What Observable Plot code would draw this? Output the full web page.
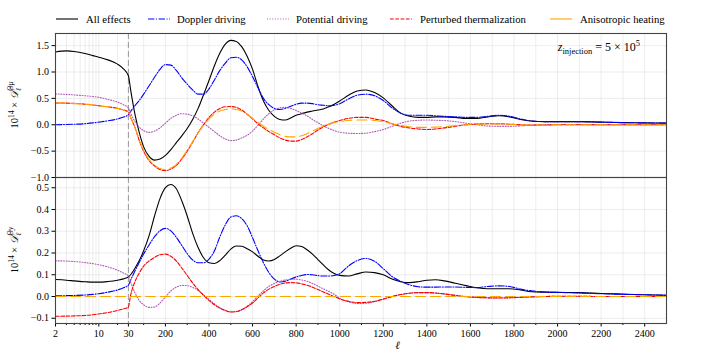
<!DOCTYPE html>
<html>
<head>
<meta charset="utf-8">
<script src="https://cdn.jsdelivr.net/npm/d3@7"></script>
<script src="https://cdn.jsdelivr.net/npm/@observablehq/plot@0.6"></script>
<style>
  html, body { margin: 0; padding: 0; background: white; overflow: hidden; }
  #chart { position: relative; width: 727px; height: 363px; background: white; }
  #chart svg { position: absolute; left: 0; top: 0; }
</style>
</head>
<body>
<div id="chart"></div>
<script>
// ---------------- data ----------------
const ell = [2, 3, 4, 6, 8, 10, 14, 20, 25, 30,
  40, 60, 80, 100,
  125, 150, 175, 200, 225, 250, 275, 300, 325, 350, 375, 400, 425, 450, 475, 500, 525, 550, 575, 600,
  625, 650, 675, 700, 725, 750, 775, 800, 825, 850, 875, 900, 925, 950, 975, 1000,
  1040, 1080, 1120, 1160, 1200, 1240, 1280, 1320, 1360, 1400, 1440, 1480,
  1530, 1580, 1630, 1680, 1730, 1780, 1830, 1880,
  1940, 2000, 2100, 2200, 2300, 2400, 2500];

// top panel: 10^14 x D_l^{Theta mu}
const topAll = [1.38, 1.40, 1.39, 1.35, 1.31, 1.28, 1.23, 1.15, 1.06, 0.93,
  0.67, 0.20, -0.15, -0.42,
  -0.60, -0.67, -0.65, -0.58, -0.47, -0.34, -0.21, -0.07, 0.10, 0.31, 0.57, 0.84, 1.12, 1.36, 1.53, 1.60, 1.58, 1.48, 1.30, 1.05,
  0.72, 0.45, 0.27, 0.16, 0.10, 0.09, 0.13, 0.18, 0.21, 0.24, 0.26, 0.28, 0.30, 0.34, 0.39, 0.45,
  0.56, 0.64, 0.66, 0.61, 0.51, 0.36, 0.22, 0.16, 0.14, 0.14, 0.15, 0.15,
  0.14, 0.12, 0.12, 0.15, 0.17, 0.15, 0.10, 0.07,
  0.06, 0.06, 0.06, 0.05, 0.04, 0.035, 0.03];
const topDoppler = [0.00, 0.005, 0.01, 0.02, 0.035, 0.05, 0.075, 0.11, 0.145, 0.19,
  0.25, 0.36, 0.46, 0.58,
  0.74, 0.90, 1.05, 1.14, 1.13, 1.03, 0.89, 0.77, 0.66, 0.58, 0.58, 0.68, 0.85, 1.03, 1.17, 1.27, 1.28, 1.23, 1.10, 0.91,
  0.70, 0.50, 0.38, 0.31, 0.29, 0.31, 0.35, 0.39, 0.41, 0.41, 0.40, 0.38, 0.37, 0.36, 0.37, 0.40,
  0.49, 0.56, 0.58, 0.55, 0.46, 0.32, 0.22, 0.18, 0.18, 0.18, 0.17, 0.16,
  0.15, 0.14, 0.14, 0.16, 0.18, 0.16, 0.11, 0.07,
  0.06, 0.06, 0.06, 0.05, 0.04, 0.035, 0.03];
const topPotential = [0.585, 0.575, 0.565, 0.55, 0.535, 0.52, 0.48, 0.43, 0.38, 0.32,
  0.22, 0.06, -0.05, -0.11,
  -0.145, -0.12, -0.06, 0.03, 0.12, 0.18, 0.21, 0.20, 0.17, 0.11, 0.03, -0.05, -0.13, -0.21, -0.27, -0.30, -0.29, -0.25, -0.20, -0.12,
  -0.01, 0.11, 0.21, 0.28, 0.32, 0.33, 0.31, 0.27, 0.22, 0.17, 0.10, 0.04, -0.02, -0.07, -0.11, -0.14,
  -0.16, -0.165, -0.16, -0.13, -0.09, -0.03, 0.03, 0.07, 0.085, 0.09, 0.085, 0.08,
  0.06, 0.03, 0.0, -0.025, -0.03, -0.03, -0.02, -0.01,
  0.0, 0.005, 0.005, 0.0, 0.0, 0.0, 0.0];
const topThermal = [0.41, 0.41, 0.405, 0.39, 0.375, 0.36, 0.34, 0.31, 0.28, 0.24,
  0.14, -0.05, -0.30, -0.50,
  -0.68, -0.78, -0.85, -0.87, -0.84, -0.77, -0.65, -0.50, -0.33, -0.15, 0.0, 0.14, 0.24, 0.31, 0.34, 0.345, 0.33, 0.28, 0.20, 0.11,
  0.02, -0.06, -0.13, -0.19, -0.25, -0.29, -0.31, -0.31, -0.28, -0.23, -0.17, -0.10, -0.04, 0.01, 0.05, 0.08,
  0.12, 0.14, 0.14, 0.11, 0.08, 0.02, -0.03, -0.06, -0.08, -0.09, -0.08, -0.06,
  -0.03, 0.0, 0.015, 0.02, 0.02, 0.01, 0.0, -0.005,
  -0.005, 0.0, 0.0, 0.0, 0.0, 0.0, 0.0];
const topAniso = [0.41, 0.41, 0.40, 0.39, 0.375, 0.36, 0.34, 0.31, 0.28, 0.24,
  0.14, -0.05, -0.29, -0.48,
  -0.66, -0.76, -0.83, -0.85, -0.82, -0.75, -0.63, -0.48, -0.32, -0.15, -0.01, 0.11, 0.20, 0.26, 0.29, 0.30, 0.29, 0.26, 0.20, 0.12,
  0.04, -0.03, -0.09, -0.14, -0.19, -0.22, -0.23, -0.23, -0.21, -0.17, -0.12, -0.07, -0.03, 0.01, 0.04, 0.06,
  0.08, 0.09, 0.09, 0.08, 0.06, 0.02, -0.01, -0.04, -0.05, -0.05, -0.045, -0.035,
  -0.02, 0.0, 0.01, 0.015, 0.015, 0.01, 0.0, -0.005,
  -0.005, 0.0, 0.0, 0.0, 0.0, 0.0, 0.0];

// bottom panel: 10^14 x D_l^{Theta y}
const botAll = [0.078, 0.075, 0.072, 0.068, 0.066, 0.066, 0.069, 0.075, 0.081, 0.09,
  0.10, 0.13, 0.165, 0.21,
  0.28, 0.37, 0.45, 0.50, 0.515, 0.495, 0.44, 0.37, 0.29, 0.225, 0.178, 0.155, 0.152, 0.165, 0.19, 0.218, 0.232, 0.231, 0.22, 0.205,
  0.185, 0.168, 0.163, 0.17, 0.187, 0.205, 0.222, 0.233, 0.23, 0.215, 0.195, 0.17, 0.145, 0.122, 0.106, 0.097,
  0.094, 0.104, 0.113, 0.11, 0.10, 0.08, 0.068, 0.064, 0.068, 0.075, 0.077, 0.072,
  0.061, 0.05, 0.04, 0.036, 0.036, 0.036, 0.03, 0.022,
  0.02, 0.019, 0.018, 0.014, 0.011, 0.008, 0.006];
const botDoppler = [0.003, 0.004, 0.005, 0.007, 0.01, 0.013, 0.02, 0.03, 0.04, 0.052,
  0.075, 0.117, 0.157, 0.195,
  0.237, 0.275, 0.302, 0.313, 0.302, 0.272, 0.235, 0.197, 0.168, 0.155, 0.155, 0.172, 0.21, 0.275, 0.33, 0.365, 0.371, 0.358, 0.325, 0.27,
  0.21, 0.155, 0.11, 0.08, 0.067, 0.07, 0.08, 0.09, 0.097, 0.101, 0.10, 0.096, 0.094, 0.094, 0.097, 0.105,
  0.14, 0.165, 0.175, 0.162, 0.128, 0.092, 0.07, 0.054, 0.045, 0.043, 0.043, 0.044,
  0.044, 0.042, 0.041, 0.046, 0.049, 0.046, 0.034, 0.026,
  0.021, 0.019, 0.016, 0.013, 0.01, 0.008, 0.006];
const botPotential = [0.164, 0.163, 0.161, 0.156, 0.151, 0.146, 0.136, 0.121, 0.108, 0.095,
  0.067, 0.017, -0.018, -0.038,
  -0.05, -0.048, -0.03, -0.002, 0.026, 0.043, 0.051, 0.05, 0.042, 0.028, 0.007, -0.013, -0.034, -0.051, -0.063, -0.07, -0.07, -0.062, -0.045, -0.023,
  0.003, 0.026, 0.047, 0.06, 0.07, 0.076, 0.079, 0.08, 0.076, 0.07, 0.06, 0.048, 0.035, 0.023, 0.01, -0.008,
  -0.024, -0.032, -0.031, -0.024, -0.012, 0.0, 0.009, 0.015, 0.018, 0.018, 0.016, 0.012,
  0.006, 0.0, -0.004, -0.006, -0.006, -0.005, -0.003, -0.001,
  0.0, 0.001, 0.001, 0.0, 0.0, 0.0, 0.0];
const botThermal = [-0.091, -0.090, -0.089, -0.087, -0.084, -0.080, -0.074, -0.064, -0.057, -0.048,
  0.005, 0.068, 0.108, 0.14,
  0.163, 0.18, 0.192, 0.195, 0.185, 0.163, 0.131, 0.097, 0.062, 0.032, 0.006, -0.018, -0.038, -0.054, -0.065, -0.071, -0.069, -0.06, -0.047, -0.03,
  -0.006, 0.017, 0.034, 0.046, 0.056, 0.062, 0.064, 0.063, 0.058, 0.052, 0.043, 0.032, 0.021, 0.01, 0.0, -0.011,
  -0.022, -0.028, -0.027, -0.022, -0.012, 0.0, 0.009, 0.015, 0.018, 0.018, 0.016, 0.012,
  0.005, -0.001, -0.004, -0.006, -0.007, -0.006, -0.004, -0.002,
  0.0, 0.001, 0.001, 0.0, 0.0, 0.0, 0.0];
const botAnisoEll = [2, 2500];
const botAniso = [0, 0];

const seriesNames = ["All effects", "Doppler driving", "Potential driving", "Perturbed thermalization", "Anisotropic heating"];
const seriesColors = ["#000000", "#0000ff", "#b05cb8", "#ff0000", "#ffa500"];
const seriesDash = [null, "6.4,1.6,1,1.6", "1,1.65", "3.7,1.6", "10,5"];

const xMajorTicks = [2, 10, 30, 200, 400, 600, 800, 1000, 1200, 1400, 1600, 1800, 2000, 2200, 2400];
const xMinorTicks = [3, 4, 5, 6, 7, 8, 9, 20, 100, 300, 500, 700, 900, 1100, 1300, 1500, 1700, 1900, 2100, 2300];
const yTicksTop = [-1.0, -0.5, 0.0, 0.5, 1.0, 1.5];
const yTicksBot = [-0.1, 0.0, 0.1, 0.2, 0.3, 0.4, 0.5];
const lSplit = 30;

// ---------------- layout ----------------
const FONT = "'Liberation Serif', 'DejaVu Serif', serif";
const W = 727, H = 363;
const ML = 55, MR = 61;
const TOP_Y0 = 33, MID_Y = 177, BOT_Y1 = 323;
const LOG_SPAN = 334.6; // width (in linear-l units) given to the log section 2..30

// hybrid axis: log for l<=30, linear above
const u = l => l >= lSplit ? l : lSplit - Math.log(lSplit / l) / Math.log(lSplit / 2) * LOG_SPAN;
const labelMap = new Map(xMajorTicks.map(t => [u(t), String(t)]));
const xDomain = [u(2), 2500];

function rows(xs, ys) { return xs.map((l, i) => ({x: u(l), y: ys[i]})); }

function seriesMarks(list) {
  return list.map(([xs, ys], k) => Plot.line(rows(xs, ys), {
    x: "x", y: "y", stroke: seriesColors[k], strokeWidth: 1.1,
    strokeDasharray: seriesDash[k] || undefined, curve: "monotone-x"
  }));
}

const gridAll = [...xMajorTicks, ...xMinorTicks].map(u);
const fmt = d3.format(".1f");

const common = {
  width: W, height: H, marginLeft: ML, marginRight: MR,
  x: {domain: xDomain, axis: null},
  style: {fontFamily: FONT, fontSize: "10px", background: "transparent", color: "black"}
};

const topSvg = Plot.plot({
  ...common,
  marginTop: TOP_Y0, marginBottom: H - MID_Y,
  y: {domain: [-1.0, 1.73], axis: null},
  marks: [
    Plot.gridX(gridAll, {stroke: "#d9d9d9", strokeOpacity: 0.6, strokeWidth: 0.8}),
    Plot.gridY(yTicksTop, {stroke: "#d9d9d9", strokeOpacity: 0.6, strokeWidth: 0.8}),
    Plot.ruleX([lSplit], {x: u, stroke: "#999", strokeWidth: 1, strokeDasharray: "6,3"}),
    ...seriesMarks([[ell, topAll], [ell, topDoppler], [ell, topPotential], [ell, topThermal], [ell, topAniso]]),
    Plot.axisY(yTicksTop, {tickSize: 3.5, tickPadding: 3, tickFormat: fmt, label: null, fontSize: 10}),
    Plot.frame({stroke: "#444", strokeWidth: 1.1})
  ]
});

const botSvg = Plot.plot({
  ...common,
  marginTop: MID_Y, marginBottom: H - BOT_Y1,
  y: {domain: [-0.124, 0.547], axis: null},
  marks: [
    Plot.gridX(gridAll, {stroke: "#d9d9d9", strokeOpacity: 0.6, strokeWidth: 0.8}),
    Plot.gridY(yTicksBot, {stroke: "#d9d9d9", strokeOpacity: 0.6, strokeWidth: 0.8}),
    Plot.ruleX([lSplit], {x: u, stroke: "#999", strokeWidth: 1, strokeDasharray: "6,3"}),
    ...seriesMarks([[ell, botAll], [ell, botDoppler], [ell, botPotential], [ell, botThermal], [botAnisoEll, botAniso]]),
    Plot.axisY(yTicksBot, {tickSize: 3.5, tickPadding: 3, tickFormat: fmt, label: null, fontSize: 10}),
    Plot.axisX(xMajorTicks.map(u), {tickSize: 3.5, tickPadding: 3, tickFormat: d => labelMap.get(d), label: null, fontSize: 10}),
    Plot.axisX(xMinorTicks.map(u), {tickSize: 2, tickFormat: () => "", label: null}),
    Plot.text(["ℓ"], {x: [(lSplit + 2500) / 2], frameAnchor: "bottom", dy: 25, fontSize: 11, fontStyle: "italic"}),
    Plot.frame({stroke: "#444", strokeWidth: 1.1})
  ]
});

const chart = document.getElementById("chart");
chart.appendChild(topSvg);
chart.appendChild(botSvg);

// y-axis labels
function addYLabel(svg, cx, cy, supMain, supItalic) {
  const t = d3.select(svg).append("text")
    .attr("transform", `translate(${cx},${cy}) rotate(-90)`)
    .attr("text-anchor", "middle").attr("font-family", FONT)
    .attr("font-size", 10.5).attr("fill", "black");
  t.append("tspan").text("10");
  t.append("tspan").attr("font-size", 7.5).attr("dy", -4).text("14");
  t.append("tspan").attr("dy", 4).text(" × ");
  t.append("tspan").attr("font-style", "italic").text("𝒟");
  t.append("tspan").attr("font-size", 7.5).attr("dy", 3).attr("font-style", "italic").text("ℓ");
  t.append("tspan").attr("font-size", 7.5).attr("dx", -2.5).attr("dy", -8).text(supMain);
  t.append("tspan").attr("font-size", 7.5).attr("font-style", "italic").text(supItalic);
}
addYLabel(topSvg, 18, (TOP_Y0 + MID_Y) / 2, "Θ", "μ");
addYLabel(botSvg, 18, (MID_Y + BOT_Y1) / 2, "Θ", "y");

// annotation
{
  const a = d3.select(topSvg).append("text")
    .attr("x", 640).attr("y", 51).attr("text-anchor", "end")
    .attr("font-family", FONT).attr("font-size", 12).attr("fill", "black");
  a.append("tspan").attr("font-style", "italic").text("z");
  a.append("tspan").attr("font-size", 8.5).attr("dy", 2.5).text("injection");
  a.append("tspan").attr("dy", -2.5).text(" = 5 × 10");
  a.append("tspan").attr("font-size", 8.5).attr("dy", -5).text("5");
}

// legend
{
  const lineX = [56, 148, 267, 390, 550];
  const textX = [86, 177, 296, 420, 580];
  const lg = d3.select(chart).append("svg").attr("width", W).attr("height", 32);
  seriesNames.forEach((name, k) => {
    lg.append("line").attr("x1", lineX[k]).attr("x2", lineX[k] + 22).attr("y1", 19).attr("y2", 19)
      .attr("stroke", seriesColors[k]).attr("stroke-width", 1.1)
      .attr("stroke-dasharray", seriesDash[k] && k !== 4 ? seriesDash[k] : null);
    lg.append("text").attr("x", textX[k]).attr("y", 22.5).attr("font-family", FONT)
      .attr("font-size", 10.7).attr("fill", "black").text(name);
  });
}
</script>
</body>
</html>
